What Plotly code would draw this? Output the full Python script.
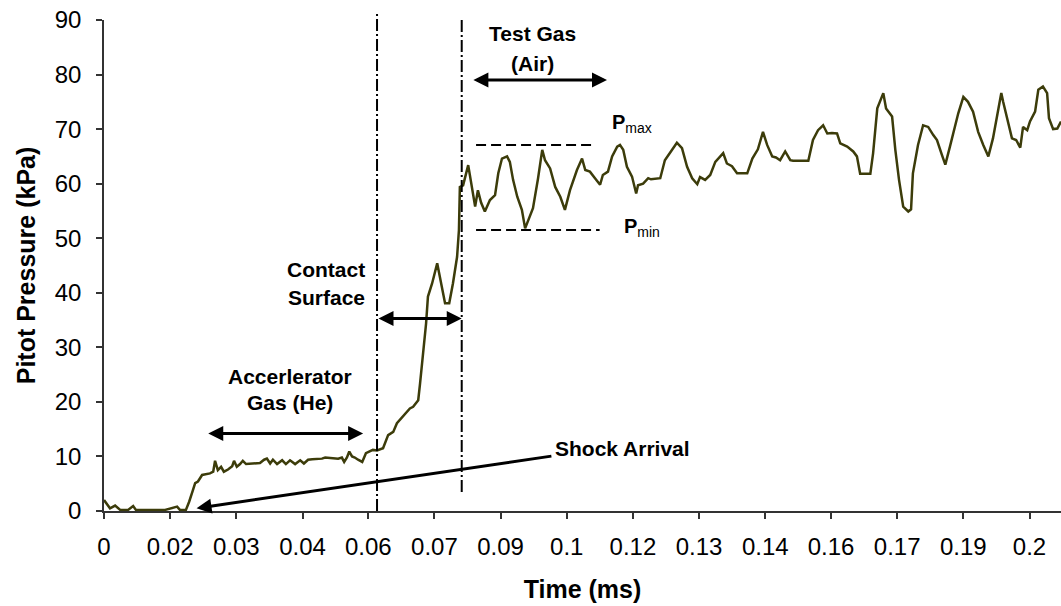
import plotly.graph_objects as go

# Pitot pressure trace (time in ms, pressure in kPa)
time_ms = [
    0.0010, 0.0023, 0.0034, 0.0045, 0.0062, 0.0073, 0.0079, 0.0125, 0.0142, 0.0168,
    0.0174, 0.0187, 0.0194, 0.0202, 0.0207, 0.0213, 0.0222, 0.0239, 0.0246, 0.0250,
    0.0256, 0.0263, 0.0269, 0.0278, 0.0287, 0.0291, 0.0297, 0.0304, 0.0310, 0.0317,
    0.0336, 0.0347, 0.0356, 0.0362, 0.0369, 0.0375, 0.0384, 0.0395, 0.0403, 0.0412,
    0.0423, 0.0434, 0.0442, 0.0451, 0.0460, 0.0473, 0.0481, 0.0488, 0.0505, 0.0516,
    0.0524, 0.0529, 0.0535, 0.0540, 0.0546, 0.0552, 0.0559, 0.0568, 0.0576, 0.0585,
    0.0591, 0.0600, 0.0613, 0.0624, 0.0635, 0.0643, 0.0656, 0.0671, 0.0678, 0.0689,
    0.0693, 0.0699, 0.0706, 0.0710, 0.0719, 0.0730, 0.0736, 0.0747, 0.0756, 0.0764,
    0.0773, 0.0777, 0.0779, 0.0786, 0.0797, 0.0812, 0.0818, 0.0825, 0.0833, 0.0844,
    0.0855, 0.0862, 0.0870, 0.0881, 0.0887, 0.0894, 0.0903, 0.0913, 0.0920, 0.0929,
    0.0937, 0.0948, 0.0957, 0.0963, 0.0974, 0.0985, 0.0996, 0.1006, 0.1017, 0.1032,
    0.1043, 0.1050, 0.1060, 0.1071, 0.1082, 0.1088, 0.1099, 0.1108, 0.1119, 0.1125,
    0.1132, 0.1140, 0.1151, 0.1160, 0.1164, 0.1175, 0.1186, 0.1192, 0.1212, 0.1222,
    0.1233, 0.1248, 0.1259, 0.1270, 0.1281, 0.1292, 0.1298, 0.1309, 0.1320, 0.1331,
    0.1348, 0.1356, 0.1367, 0.1378, 0.1400, 0.1411, 0.1423, 0.1434, 0.1443, 0.1454,
    0.1462, 0.1471, 0.1482, 0.1493, 0.1499, 0.1532, 0.1542, 0.1553, 0.1564, 0.1573,
    0.1583, 0.1594, 0.1601, 0.1616, 0.1629, 0.1637, 0.1644, 0.1666, 0.1672, 0.1681,
    0.1694, 0.1700, 0.1713, 0.1720, 0.1728, 0.1737, 0.1748, 0.1754, 0.1758, 0.1769,
    0.1780, 0.1791, 0.1802, 0.1810, 0.1821, 0.1828, 0.1838, 0.1856, 0.1867, 0.1877,
    0.1888, 0.1899, 0.1910, 0.1921, 0.1931, 0.1942, 0.1949, 0.1953, 0.1962, 0.1972,
    0.1981, 0.1990, 0.1996, 0.2005, 0.2011, 0.2022, 0.2029, 0.2039, 0.2048, 0.2052,
    0.2061, 0.2070, 0.2078,
]
pressure_kpa = [
    2.0, 0.5, 1.0, 0.2, 0.2, 0.9, 0.2, 0.2, 0.2, 0.8,
    0.2, 0.2, 1.7, 3.8, 5.1, 5.4, 6.6, 6.9, 7.2, 9.2,
    7.5, 8.1, 7.2, 7.6, 8.2, 9.2, 8.1, 8.6, 9.2, 8.6,
    8.7, 8.8, 9.4, 9.6, 8.7, 9.4, 8.6, 9.3, 8.6, 9.3,
    8.6, 9.3, 8.7, 9.4, 9.5, 9.5, 9.6, 9.8, 9.7, 9.6,
    9.8, 9.0, 9.8, 10.9, 10.0, 9.8, 9.4, 9.0, 10.6, 10.9,
    11.2, 11.1, 11.5, 13.9, 14.5, 16.1, 17.3, 18.8, 19.1, 20.3,
    23.4, 28.3, 34.4, 39.3, 41.7, 45.4, 42.9, 38.1, 38.1, 41.7,
    46.6, 51.5, 59.4, 59.7, 63.4, 55.8, 58.8, 56.5, 54.9, 57.0,
    57.9, 61.9, 64.6, 65.0, 64.0, 60.7, 57.6, 55.2, 51.8, 53.6,
    55.5, 61.0, 66.2, 64.3, 62.8, 59.4, 57.6, 55.2, 58.8, 62.5,
    64.6, 62.5, 62.2, 61.0, 59.8, 61.6, 62.2, 65.0, 66.8, 67.1,
    66.2, 63.1, 61.3, 58.2, 59.7, 60.0, 61.0, 60.8, 61.0, 64.3,
    65.6, 67.5, 66.5, 63.1, 61.0, 59.9, 61.2, 60.7, 61.6, 64.0,
    65.6, 63.7, 63.2, 61.9, 61.9, 64.6, 66.3, 69.5, 67.1, 65.0,
    64.8, 64.3, 65.9, 64.3, 64.2, 64.2, 68.0, 69.8, 70.7, 69.2,
    69.3, 69.2, 67.4, 66.8, 65.9, 65.0, 61.8, 61.8, 65.6, 73.8,
    76.6, 73.8, 72.3, 66.2, 60.7, 55.8, 54.9, 55.3, 61.9, 67.1,
    70.7, 70.4, 68.9, 68.0, 65.2, 63.5, 66.8, 72.9, 75.9, 75.0,
    73.2, 69.5, 67.1, 65.0, 68.3, 73.2, 76.6, 75.0, 71.7, 68.3,
    68.0, 66.6, 70.4, 69.8, 71.4, 73.2, 77.2, 77.8, 76.6, 72.0,
    70.0, 70.1, 71.4,
]

# Category-style time ticks
tick_times = [0.0010, 0.0153, 0.0296, 0.0439, 0.0581, 0.0724, 0.0867, 0.1010,
              0.1153, 0.1296, 0.1439, 0.1581, 0.1724, 0.1867, 0.2010]
tick_labels = ["0", "0.02", "0.03", "0.04", "0.06", "0.07", "0.09", "0.1",
               "0.12", "0.13", "0.14", "0.16", "0.17", "0.19", "0.2"]

# Flow-phase markers
contact_start = 0.0600
test_gas_start = 0.0783
p_max = 67.1
p_min = 51.5

FONT = "Arial, Liberation Sans, sans-serif"
LINE_COL = "#3c3c0a"

fig = go.Figure()
fig.add_trace(go.Scatter(
    x=time_ms, y=pressure_kpa, mode="lines",
    line=dict(color=LINE_COL, width=2.5),
    showlegend=False, hoverinfo="skip",
))

shapes = [
    # phase boundaries
    dict(type="line", xref="x", yref="paper", x0=contact_start, x1=contact_start,
         y0=0, y1=1.012, line=dict(color="black", width=2, dash="12px,3px,2px,3px")),
    dict(type="line", xref="x", yref="y", x0=test_gas_start, x1=test_gas_start,
         y0=3.5, y1=91.1, line=dict(color="black", width=2, dash="12px,3px,2px,3px")),
    # pressure band
    dict(type="line", xref="x", yref="y", x0=0.0814, x1=0.1070, y0=p_max, y1=p_max,
         line=dict(color="black", width=2, dash="10px,5px")),
    dict(type="line", xref="x", yref="y", x0=0.0814, x1=0.1081, y0=p_min, y1=p_min,
         line=dict(color="black", width=2, dash="10px,5px")),
]

annotations = []


def span_arrow(x0, x1, y):
    return dict(x=x1, y=y, ax=x0, ay=y, xref="x", yref="y", axref="x", ayref="y",
                text="", showarrow=True, arrowhead=2, startarrowhead=2,
                arrowside="end+start", arrowsize=1, startarrowsize=1,
                arrowwidth=3, arrowcolor="black", standoff=0, startstandoff=0)


annotations.append(span_arrow(0.0232, 0.0570, 14.2))
annotations.append(span_arrow(contact_start, test_gas_start, 35.3))
annotations.append(span_arrow(0.0805, 0.1097, 79.0))

# shock arrival pointer
annotations.append(dict(x=0.0210, y=0.5, ax=0.0980, ay=10.1, xref="x", yref="y",
                        axref="x", ayref="y", text="", showarrow=True, arrowhead=2,
                        arrowsize=1, arrowwidth=3, arrowcolor="black", standoff=0))

label_font = dict(family=FONT, size=21, color="black", weight="bold")


def label(text, x, y, xanchor="center", font=label_font):
    return dict(x=x, y=y, xref="x", yref="y", text=text, showarrow=False,
                xanchor=xanchor, yanchor="middle", align="center", font=font)


annotations += [
    label("Accerlerator", 0.0412, 24.7),
    label("Gas (He)", 0.0412, 19.8),
    label("Contact", 0.0490, 44.2),
    label("Surface", 0.0490, 39.2),
    label("Test Gas", 0.0937, 87.6),
    label("(Air)", 0.0937, 82.1),
    label("Shock Arrival", 0.1130, 11.5),
    label("<b>P</b><sub>max</sub>", 0.1104, 71.1, xanchor="left",
          font=dict(family=FONT, size=20, color="black")),
    label("<b>P</b><sub>min</sub>", 0.1129, 51.9, xanchor="left",
          font=dict(family=FONT, size=20, color="black")),
]

fig.update_layout(
    width=1061, height=606,
    margin=dict(l=104, r=0, t=20, b=95),
    paper_bgcolor="white", plot_bgcolor="white",
    shapes=shapes, annotations=annotations,
    xaxis=dict(
        range=[0.0010, 0.2078], tickmode="array", tickvals=tick_times, ticktext=tick_labels,
        showgrid=False, zeroline=False, showline=True, linecolor="#333333", linewidth=1.5,
        ticks="outside", ticklen=6, tickcolor="#333333", tickwidth=1.5,
        tickfont=dict(family=FONT, size=24, color="black"), ticklabelstandoff=7,
        title=dict(text="Time (ms)", font=dict(family=FONT, size=25, color="black", weight="bold"),
                   standoff=22),
    ),
    yaxis=dict(
        range=[0, 90], tick0=0, dtick=10,
        showgrid=False, zeroline=False, showline=True, linecolor="#333333", linewidth=1.5,
        ticks="outside", ticklen=6, tickcolor="#333333", tickwidth=1.5,
        tickfont=dict(family=FONT, size=24, color="black"), ticklabelstandoff=10,
        title=dict(text="Pitot Pressure (kPa)", font=dict(family=FONT, size=25, color="black", weight="bold"),
                   standoff=12),
    ),
)

fig.write_html("out.html")
